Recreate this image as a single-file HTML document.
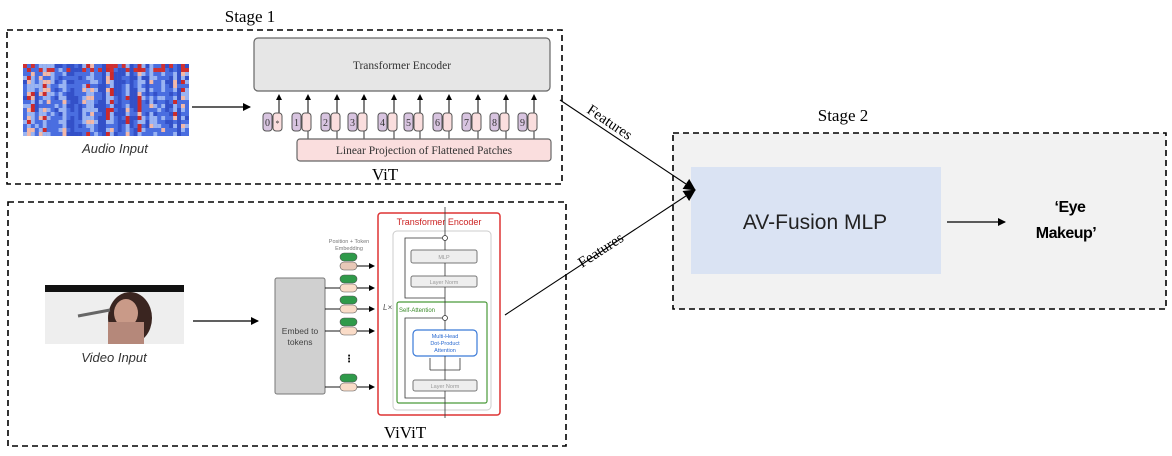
<!DOCTYPE html>
<html><head><meta charset="utf-8"><style>
html,body{margin:0;padding:0;background:#fff;}
svg{display:block;}
.serif{font-family:"Liberation Serif",serif;}
.sans{font-family:"Liberation Sans","DejaVu Sans",sans-serif;}
</style></head><body>
<svg width="1172" height="456" viewBox="0 0 1172 456" xmlns="http://www.w3.org/2000/svg">
<defs>
<marker id="ah" markerWidth="8" markerHeight="8" refX="7" refY="4" orient="auto" markerUnits="userSpaceOnUse"><path d="M0,0 L8,4 L0,8 z" fill="#000"/></marker>
<marker id="as" markerWidth="6" markerHeight="6" refX="5" refY="3" orient="auto" markerUnits="userSpaceOnUse"><path d="M0,0 L6,3 L0,6 z" fill="#000"/></marker>
<marker id="ab" markerWidth="12" markerHeight="12" refX="11" refY="6" orient="auto" markerUnits="userSpaceOnUse"><path d="M0,0 L12,6 L0,12 z" fill="#000"/></marker>
<linearGradient id="sp" x1="0" x2="1"><stop offset="0" stop-color="#3b5bd0"/><stop offset=".5" stop-color="#5b7fe0"/><stop offset="1" stop-color="#3e5fd2"/></linearGradient>
</defs>

<!-- Stage 1 -->
<text x="250" y="22" class="serif" font-size="17" text-anchor="middle">Stage 1</text>
<rect x="7" y="30" width="555" height="154" fill="none" stroke="#000" stroke-width="1.6" stroke-dasharray="6,4"/>
<g id="spec"><rect x="23" y="64" width="166" height="72" fill="url(#sp)"/></g>
<text x="115" y="153" class="sans" font-size="13" font-style="italic" fill="#333" text-anchor="middle">Audio Input</text>
<line x1="192" y1="107" x2="250" y2="107" stroke="#000" stroke-width="1.2" marker-end="url(#ah)"/>
<rect x="254" y="38" width="296" height="53" rx="4" fill="#e6e6e6" stroke="#666" stroke-width="1.2"/>
<text x="402" y="69" class="serif" font-size="11.5" text-anchor="middle" fill="#333">Transformer Encoder</text>
<g id="toks"></g>
<rect x="297" y="139" width="254" height="22" rx="3" fill="#fadede" stroke="#666" stroke-width="1.2"/>
<text x="424" y="154" class="serif" font-size="11.5" text-anchor="middle" fill="#333">Linear Projection of Flattened Patches</text>
<text x="385" y="180" class="serif" font-size="17" text-anchor="middle">ViT</text>

<!-- ViViT box -->
<rect x="8" y="202" width="558" height="244" fill="none" stroke="#000" stroke-width="1.6" stroke-dasharray="6,4"/>
<rect x="45" y="285" width="139" height="59" fill="#eeeeee"/>
<rect x="45" y="285" width="139" height="7" fill="#111"/>
<ellipse cx="130" cy="318" rx="22" ry="26" fill="#3a2520"/>
<ellipse cx="126" cy="313" rx="12" ry="14" fill="#c99a88"/>
<rect x="108" y="322" width="36" height="22" fill="#b5887a"/>
<line x1="78" y1="316" x2="110" y2="310" stroke="#666" stroke-width="3"/>
<text x="114" y="362" class="sans" font-size="13" font-style="italic" fill="#333" text-anchor="middle">Video Input</text>
<line x1="193" y1="321" x2="258" y2="321" stroke="#000" stroke-width="1.2" marker-end="url(#ah)"/>
<rect x="275" y="278" width="50" height="116" rx="2" fill="#d0d0d0" stroke="#777"/>
<text x="300" y="334" class="sans" font-size="8.5" text-anchor="middle" fill="#444">Embed to</text>
<text x="300" y="345" class="sans" font-size="8.5" text-anchor="middle" fill="#444">tokens</text>
<text x="349" y="243" class="sans" font-size="5.5" text-anchor="middle" fill="#777">Position + Token</text>
<text x="349" y="250" class="sans" font-size="5.5" text-anchor="middle" fill="#777">Embedding</text>
<g id="vtoks"></g>
<text x="349" y="362" class="sans" font-size="10" text-anchor="middle" font-weight="bold">⋮</text>
<rect x="378" y="213" width="122" height="202" rx="3" fill="#fff" stroke="#d33" stroke-width="1.5"/>
<text x="439" y="225" class="sans" font-size="9" text-anchor="middle" fill="#c22">Transformer Encoder</text>
<rect x="393" y="231" width="98" height="179" rx="4" fill="none" stroke="#ccc"/>
<rect x="411" y="250" width="66" height="13" rx="2" fill="#eee" stroke="#777"/>
<text x="444" y="259" class="sans" font-size="5.5" text-anchor="middle" fill="#999">MLP</text>
<rect x="411" y="276" width="66" height="11" rx="2" fill="#eee" stroke="#777"/>
<text x="444" y="284" class="sans" font-size="5.5" text-anchor="middle" fill="#999">Layer Norm</text>
<rect x="397" y="302" width="90" height="101" rx="2" fill="none" stroke="#4a9a3a" stroke-width="1.2"/>
<text x="399" y="312" class="sans" font-size="6" fill="#3a8a2a">Self-Attention</text>
<text x="383" y="310" class="sans" font-size="8" font-style="italic" fill="#555">L×</text>
<rect x="413" y="330" width="64" height="26" rx="4" fill="#fff" stroke="#3a7ad8" stroke-width="1.2"/>
<text x="445" y="338" class="sans" font-size="5.5" text-anchor="middle" fill="#2a6ad0">Multi-Head</text>
<text x="445" y="345" class="sans" font-size="5.5" text-anchor="middle" fill="#2a6ad0">Dot-Product</text>
<text x="445" y="352" class="sans" font-size="5.5" text-anchor="middle" fill="#2a6ad0">Attention</text>
<rect x="413" y="380" width="64" height="11" rx="2" fill="#eee" stroke="#777"/>
<text x="445" y="388" class="sans" font-size="5.5" text-anchor="middle" fill="#999">Layer Norm</text>
<g stroke="#333" stroke-width="0.8" fill="none">
<line x1="445" y1="418" x2="445" y2="391"/><line x1="445" y1="380" x2="445" y2="356"/>
<line x1="445" y1="330" x2="445" y2="320"/><line x1="445" y1="316" x2="445" y2="287"/>
<line x1="445" y1="276" x2="445" y2="263"/><line x1="445" y1="250" x2="445" y2="240"/>
<line x1="445" y1="236" x2="445" y2="207"/>
<circle cx="445" cy="318" r="2.5"/><circle cx="445" cy="238" r="2.5"/>
<polyline points="445,398 405,398 405,318 442,318"/>
<polyline points="445,298 405,298 405,238 442,238"/>
<polyline points="430,370 430,358"/><polyline points="460,370 460,358"/><polyline points="430,370 460,370"/>
</g>
<text x="405" y="438" class="serif" font-size="17" text-anchor="middle">ViViT</text>

<!-- Stage 2 -->
<text x="843" y="121" class="serif" font-size="17" text-anchor="middle">Stage 2</text>
<rect x="673" y="133" width="493" height="176" fill="#f2f2f2" stroke="#000" stroke-width="1.6" stroke-dasharray="6,4"/>
<rect x="691" y="167" width="250" height="107" fill="#dae3f3"/>
<text x="815" y="229" class="sans" font-size="21" text-anchor="middle" fill="#222">AV-Fusion MLP</text>
<line x1="947" y1="222" x2="1005" y2="222" stroke="#000" stroke-width="1.2" marker-end="url(#ah)"/>
<text x="1070" y="212" class="sans" font-size="16" font-weight="bold" text-anchor="middle" letter-spacing="-0.5">‘Eye</text>
<text x="1066" y="238" class="sans" font-size="16" font-weight="bold" text-anchor="middle" letter-spacing="-0.5">Makeup’</text>

<!-- Features arrows (on top) -->
<line x1="560" y1="100" x2="695" y2="190" stroke="#000" stroke-width="1.1" marker-end="url(#ab)"/>
<line x1="505" y1="315" x2="695" y2="190" stroke="#000" stroke-width="1.1" marker-end="url(#ab)"/>
<text x="0" y="0" class="serif" font-size="15" transform="translate(586,112) rotate(34)">Features</text>
<text x="0" y="0" class="serif" font-size="15" transform="translate(582,268) rotate(-33)">Features</text>
</svg>
<script>
(function(){
var NS="http://www.w3.org/2000/svg";
function el(p,t,a){var e=document.createElementNS(NS,t);for(var k in a)e.setAttribute(k,a[k]);p.appendChild(e);return e;}
var s=document.getElementById('spec');var seed=7;function r(){seed=(seed*9301+49297)%233280;return seed/233280;}
for(var x=0;x<42;x++){var base=r();for(var y=0;y<18;y++){var v=(base*0.6+r()*0.4);var c=v<0.12?"#cc2a2a":v<0.2?"#f2b8a8":v<0.38?"#9ab4f2":v<0.6?"#4a6ee0":"#3350c8";if(y<2&&r()<0.3)c="#d03030";
el(s,'rect',{x:23+x*3.95,y:64+y*4,width:4,height:4,fill:c});}}
var t=document.getElementById('toks');var xs=[279,308,337,364,394,420,449,478,506,534];
for(var i=0;i<10;i++){var cx=xs[i];
el(t,'line',{x1:cx,y1:118,x2:cx,y2:95,stroke:'#000','stroke-width':1,'marker-end':'url(#as)'});
if(i>0)el(t,'line',{x1:cx,y1:131,x2:cx,y2:139,stroke:'#333','stroke-width':1});
el(t,'rect',{x:cx-16,y:113,width:9,height:18,rx:3,fill:'#d8c4e0',stroke:'#555','stroke-width':1});
el(t,'rect',{x:cx-6,y:113,width:9,height:18,rx:3,fill:'#fadede',stroke:'#555','stroke-width':1});
var tx=el(t,'text',{x:cx-11.5,y:126,'font-size':10,'text-anchor':'middle','font-family':'Liberation Serif,serif',fill:'#333'});tx.textContent=String(i);
if(i==0){var q=el(t,'text',{x:cx-1.5,y:126,'font-size':8,'text-anchor':'middle',fill:'#333'});q.textContent='*';}}
var v=document.getElementById('vtoks');var ys=[262,284,305,327,383];
for(var j=0;j<5;j++){var y=ys[j];
el(v,'rect',{x:340,y:y-9,width:17,height:8,rx:4,fill:'#2f9a4a',stroke:'#555','stroke-width':0.6});
el(v,'rect',{x:340,y:y,width:17,height:8,rx:4,fill:j==0?'#e8c8b8':'#fadcc8',stroke:'#555','stroke-width':0.6});
el(v,'line',{x1:357,y1:y+4,x2:374,y2:y+4,stroke:'#000','stroke-width':0.9,'marker-end':'url(#as)'});
if(j>0)el(v,'line',{x1:325,y1:y+4,x2:340,y2:y+4,stroke:'#000','stroke-width':0.9});}
})();
</script>
</body></html>
